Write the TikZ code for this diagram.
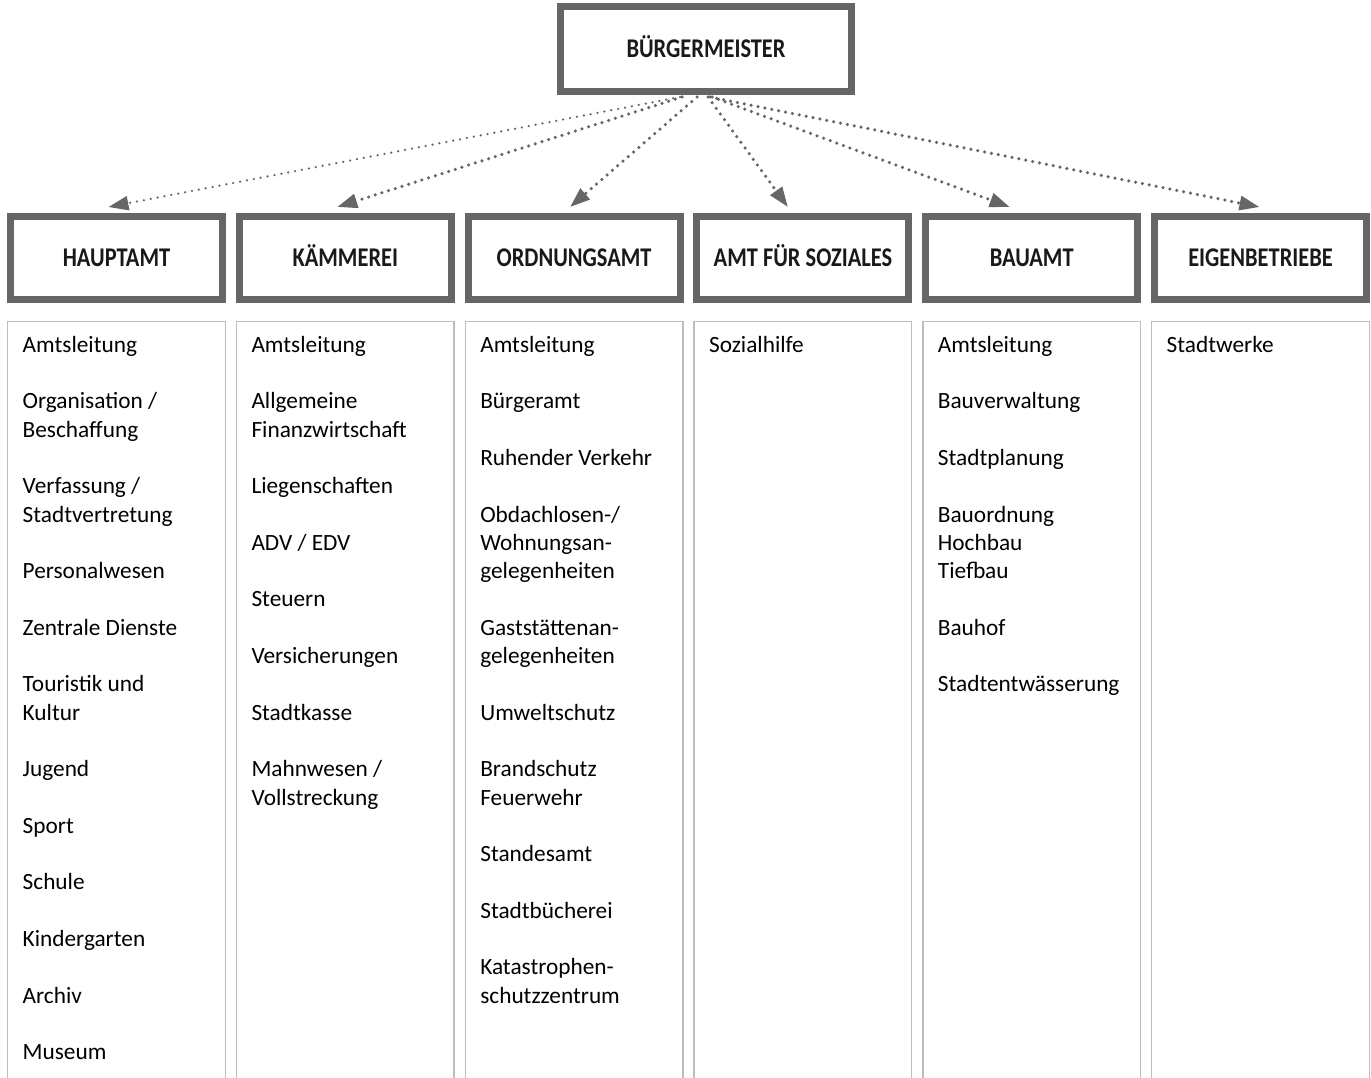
\documentclass[tikz,border=0pt]{standalone}
\usepackage{fontspec}
\setmainfont{Carlito}
\newfontfamily\headfont[FakeStretch=0.83]{Carlito}
\usetikzlibrary{arrows.meta}
\definecolor{boxgray}{HTML}{666666}
\definecolor{colgray}{HTML}{BDBDBD}
\newcommand{\gap}{\\[28.3pt]}
\newcommand{\firstline}{\rule{0pt}{20pt}}

\begin{document}
\begin{tikzpicture}[x=1pt,y=-1pt,
	headbox/.style={draw=boxgray, line width=7pt, minimum width=212pt, minimum height=83pt, inner sep=0pt, text height=17.5pt, text depth=0pt, text=black!90, font=\headfont\bfseries\fontsize{27}{30}\selectfont},
	colbox/.style={draw=colgray, line width=1.4pt, minimum width=217.6pt, minimum height=800pt, anchor=north, inner sep=0pt},
	itemlist/.style={anchor=north west, inner sep=0pt, align=left, font=\fontsize{23.3}{28.3}\selectfont},
	link/.style={draw=boxgray, dash pattern=on 0pt off 7pt, line cap=round, -{Triangle[length=20pt,width=14pt]}}]
		\useasboundingbox (0,0) rectangle (1371,1078);
		\node[headbox, minimum width=291pt, minimum height=85pt] (bm) at (706,49) {BÜRGERMEISTER};
		\foreach \name [count=\i] in {HAUPTAMT, KÄMMEREI, ORDNUNGSAMT, AMT FÜR SOZIALES, BAUAMT, EIGENBETRIEBE}{
			\node[headbox] (d\i) at ({116.5+228.8*(\i-1)},258) {\name};
			\node[colbox] (c\i) at ({116.5+228.8*(\i-1)},321) {};
		}
		\foreach \i/\sx/\ex/\lw in {1/-26/-8/2.5, 2/-24/-8/3.5, 3/-9/-4/3.5, 4/2/-15/3.5, 5/6/-22/3.5, 6/4/-1/3.5}
			\draw[link, line width=\lw pt] ([xshift=\sx pt, yshift=-2pt]bm.south) -- ([xshift=\ex pt, yshift=6pt]d\i.north);
		% Aufgabenbereiche
		\node[itemlist] (l1) at ([xshift=15.5pt, yshift=-11pt]c1.north west) {\firstline Amtsleitung\gap Organisation /\\Beschaffung\gap Verfassung /\\Stadtvertretung\gap Personalwesen\gap Zentrale Dienste\gap Touristik und\\Kultur\gap Jugend\gap Sport\gap Schule\gap Kindergarten\gap Archiv\gap Museum};
		\node[itemlist] (l2) at ([xshift=15.5pt, yshift=-11pt]c2.north west) {\firstline Amtsleitung\gap Allgemeine\\Finanzwirtschaft\gap Liegenschaften\gap ADV / EDV\gap Steuern\gap Versicherungen\gap Stadtkasse\gap Mahnwesen /\\Vollstreckung};
		\node[itemlist] (l3) at ([xshift=15.5pt, yshift=-11pt]c3.north west) {\firstline Amtsleitung\gap Bürgeramt\gap Ruhender Verkehr\gap Obdachlosen-/\\Wohnungsan-\\gelegenheiten\gap Gaststättenan-\\gelegenheiten\gap Umweltschutz\gap Brandschutz\\Feuerwehr\gap Standesamt\gap Stadtbücherei\gap Katastrophen-\\schutzzentrum};
		\node[itemlist] (l4) at ([xshift=15.5pt, yshift=-11pt]c4.north west) {\firstline Sozialhilfe};
		\node[itemlist] (l5) at ([xshift=15.5pt, yshift=-11pt]c5.north west) {\firstline Amtsleitung\gap Bauverwaltung\gap Stadtplanung\gap Bauordnung\\Hochbau\\Tiefbau\gap Bauhof\gap Stadtentwässerung};
		\node[itemlist] (l6) at ([xshift=15.5pt, yshift=-11pt]c6.north west) {\firstline Stadtwerke};
\end{tikzpicture}
\end{document}
